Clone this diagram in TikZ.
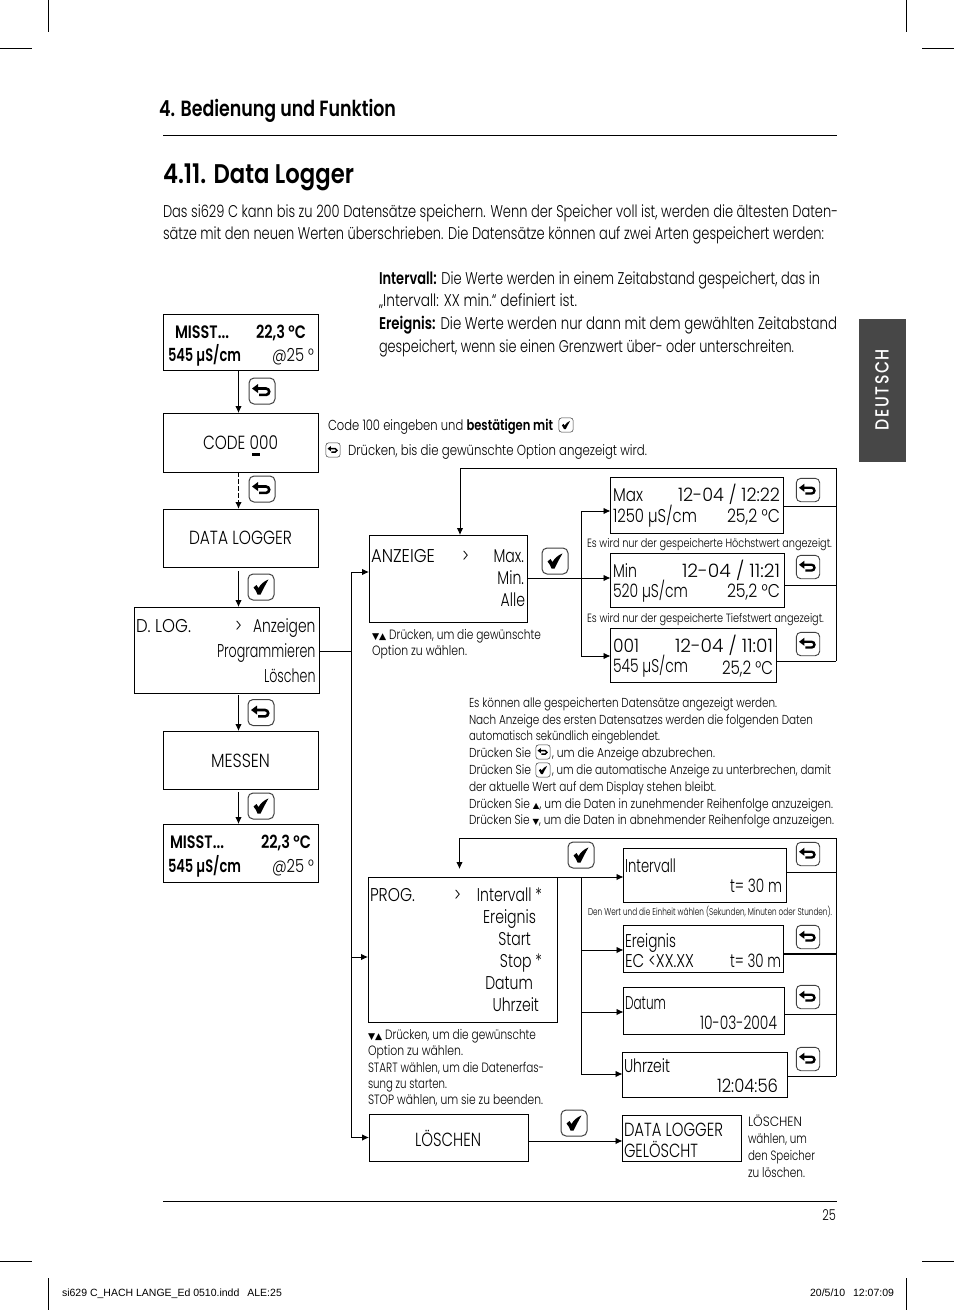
\documentclass[tikz,border=0pt]{standalone}
\usepackage{fontspec}
\usepackage{graphicx}
\usetikzlibrary{arrows.meta}
\setmainfont{Poppins}[UprightFont=* Light,BoldFont=* SemiBold,FakeStretch=0.76]
\newfontfamily\symf{DejaVu Sans}
\newfontfamily\footf{Liberation Sans}
\newfontfamily\tabf{Poppins}[UprightFont=* Medium,FakeStretch=0.8]
\newcounter{tn}
\tikzset{
 txt/.style={inner sep=0pt,outer sep=0pt,text=black},
 box/.style={draw=black,line width=0.9pt,inner sep=0pt,outer sep=0pt},
 conn/.style={draw=black,line width=0.9pt},
 arr/.style={conn,-{Latex[length=7pt,width=6.5pt]}},
 crop/.style={draw=black,line width=0.5pt},
 pics/keyback/.style={code={
   \draw[line width=#1*1pt,draw=black!75,rounded corners=#1*5pt] (-13*#1,-13*#1) rectangle (13*#1,13*#1);
   \draw[line width=#1*2.6pt] (-5*#1,-2.5*#1) -- (4*#1,-2.5*#1) arc[start angle=-90,end angle=90,radius=3.2*#1] -- (-3*#1,3.9*#1);
   \fill (-10*#1,-2.5*#1) -- (-4*#1,-7*#1) -- (-4*#1,2*#1) -- cycle;
 }},
 pics/keycheck/.style={code={
   \draw[line width=#1*1pt,draw=black!75,rounded corners=#1*5pt] (-13*#1,-13*#1) rectangle (13*#1,13*#1);
   \fill (-7.5*#1,0.5*#1) -- (-4.5*#1,-2*#1) -- (-2.5*#1,1*#1) .. controls (-0.5*#1,-2.5*#1) and (3*#1,-6*#1) .. (7.5*#1,-7.5*#1) .. controls (4.5*#1,-2.5*#1) and (2*#1,2.5*#1) .. (-0.5*#1,7.5*#1) -- (-3.5*#1,7.5*#1) .. controls (-4.5*#1,5*#1) and (-5.5*#1,2.5*#1) .. (-7.5*#1,0.5*#1) -- cycle;
 }}
}
% fitted text: left x, right x, baseline y, size, text
\newlength{\fitlen}
\newcommand\tf[5]{\stepcounter{tn}\pgfmathsetlength{\fitlen}{#2-#1}\node[txt,anchor=base west,font=\fontsize{#4}{#4}\selectfont] (t\arabic{tn}) at (#1,#3) {\resizebox{\fitlen}{\height}{#5}};}
\newcommand\tl[4]{\stepcounter{tn}\node[txt,anchor=base west,font=\fontsize{#3}{#3}\selectfont] (t\arabic{tn}) at (#1,#2) {#4};}
\newcommand\tr[4]{\stepcounter{tn}\node[txt,anchor=base east,font=\fontsize{#3}{#3}\selectfont] (t\arabic{tn}) at (#1,#2) {#4};}
\newcommand\bx[5]{\node[box,minimum width=#4pt-#2pt,minimum height=#5pt-#3pt] (#1) at ({(#2+#4)/2},{(#3+#5)/2}) {};}
\newcommand\sy[1]{{\symf #1}}
\begin{document}
\begin{tikzpicture}[x=1pt,y=-1pt]
\useasboundingbox (0,0) rectangle (954,1310);
\fill[white] (0,0) rectangle (954,1310);
% crop marks
\draw[crop] (48,0)--(48,32) (906,0)--(906,32) (0,48)--(32,48) (922,48)--(954,48)
 (48,1278)--(48,1310) (906,1278)--(906,1310) (0,1261)--(32,1261) (922,1261)--(954,1261);
% header
\tf{159}{396}{116}{22}{\textbf{4. Bedienung und Funktion}}
\draw[line width=0.7pt] (163,135.5)--(836.5,135.5);
\tf{163}{354}{183}{27}{\textbf{4.11. Data Logger}}
\tf{163}{838}{217}{17}{Das si629 C kann bis zu 200 Datensätze speichern. Wenn der Speicher voll ist, werden die ältesten Daten-}
\tf{163}{824}{239}{17}{sätze mit den neuen Werten überschrieben. Die Datensätze können auf zwei Arten gespeichert werden:}
\tf{379}{820}{284}{17}{\textbf{Intervall:} Die Werte werden in einem Zeitabstand gespeichert, das in}
\tf{379}{577}{306}{17}{„Intervall: XX min.“ definiert ist.}
\tf{379}{837}{329}{17}{\textbf{Ereignis:} Die Werte werden nur dann mit dem gewählten Zeitabstand}
\tf{379}{794}{352}{17}{gespeichert, wenn sie einen Grenzwert über- oder unterschreiten.}
% tab
\fill[black!72] (859,319) rectangle (906,462);
\stepcounter{tn}
\pgfmathsetlength{\fitlen}{81}
\node[txt,text=white,rotate=90,font=\tabf\fontsize{19}{19}\selectfont] (t\arabic{tn}) at (882,389.5) {\resizebox{\fitlen}{\height}{D\kern1.5pt E\kern1.5pt U\kern1.5pt T\kern1.5pt S\kern1.5pt C\kern1.5pt H}};
% left column boxes
\bx{misa}{163}{314}{318}{370}
\bx{code}{163}{413}{318.5}{472}
\bx{dlog}{163}{509}{318.5}{567}
\bx{dl}{134.5}{607}{319}{693.5}
\bx{mess}{163}{731}{318.5}{789}
\bx{misb}{163}{824}{318.5}{882}
% right boxes
\bx{anz}{369}{535}{527}{622}
\bx{max}{610.5}{477}{783}{533}
\bx{min}{610.5}{553}{784}{607}
\bx{alle}{610.5}{628.5}{776}{682}
\bx{prog}{368}{877}{557}{1022}
\bx{intv}{623.5}{848}{786}{902}
\bx{erg}{623.5}{925}{783}{972}
\bx{dat}{623.5}{987}{784}{1034}
\bx{uhr}{622.5}{1052}{787}{1097}
\bx{los}{369}{1114.5}{528}{1161.5}
\bx{gel}{622.5}{1115.5}{741}{1161.5}
% left connectors
\draw[arr] (misa.south -| 238.5,0) -- (code.north -| 238.5,0);
\draw[arr,dash pattern=on 4.5pt off 2.5pt,line width=1.3pt] (code.south -| 238.5,0) -- (dlog.north -| 238.5,0);
\coordinate (sa) at (238.5,571);
\draw[arr] (sa) -- (dl.north -| sa);
\coordinate (sb) at (238.5,695);
\draw[arr] (sb) -- (mess.north -| sb);
\coordinate (sc) at (238.5,792);
\draw[arr] (sc) -- (misb.north -| sc);
% bus
\coordinate (bus) at (351,651);
\draw[conn] (dl.east |- bus) -- (bus);
\coordinate (busT) at (351,572);
\coordinate (busB) at (351,1137.5);
\coordinate (busP) at (351,957);
\draw[conn] (busT) -- (busB);
\draw[arr] (busT) -- (anz.west |- busT);
\draw[arr] (busP) -- (prog.west |- busP);
\draw[arr] (busB) -- (los.west |- busB);
% anzeige fan
\coordinate (fa) at (581,511);
\coordinate (fb) at (581,578);
\coordinate (fc) at (581,656);
\draw[conn] (fa) -- (fc);
\draw[arr] (fa) -- (max.west |- fa);
\draw[arr] (anz.east |- fb) -- (min.west |- fb);
\draw[arr] (fc) -- (alle.west |- fc);
% anzeige return
\coordinate (ra) at (836,506);
\coordinate (rb) at (836,585);
\coordinate (rc) at (836,661);
\coordinate (rt) at (836,468);
\draw[conn] (max.east |- ra) -- (ra);
\draw[conn] (min.east |- rb) -- (rb);
\draw[conn] (alle.east |- rc) -- (rc);
\coordinate (rtl) at (460,468);
\draw[conn] (rc) -- (rt) -- (rtl);
\draw[arr] (rtl) -- (anz.north -| rtl);
% prog fan
\coordinate (pa) at (581,877);
\coordinate (pb) at (581,950);
\coordinate (pc) at (581,1012);
\coordinate (pd) at (581,1074);
\draw[conn] (pa) -- (pd);
\draw[arr] (prog.east |- pa) -- (intv.west |- pa);
\draw[arr] (pb) -- (erg.west |- pb);
\draw[arr] (pc) -- (dat.west |- pc);
\draw[arr] (pd) -- (uhr.west |- pd);
% prog return
\coordinate (qa) at (836,872);
\coordinate (qb) at (836,954);
\coordinate (qc) at (836,1014);
\coordinate (qd) at (836,1076);
\coordinate (qt) at (836,838);
\coordinate (qtl) at (459.5,838);
\coordinate (qh) at (459.5,869);
\draw[conn] (intv.east |- qa) -- (qa);
\draw[conn,line width=1.4pt] (erg.east |- qb) -- (qb);
\draw[conn] (dat.east |- qc) -- (qc);
\draw[conn] (uhr.east |- qd) -- (qd);
\draw[conn] (qd) -- (qt) -- (qtl);
\draw[arr] (qtl) -- (qh);
\coordinate (ld) at (528,1141);
\draw[arr] (los.east |- ld) -- (gel.west |- ld);
% keys
\pic at (262,391) {keyback=1};
\pic at (262,489) {keyback=1};
\pic at (261,587) {keycheck=1};
\pic at (261,712.5) {keyback=1};
\pic at (261,806) {keycheck=1};
\pic at (555,561) {keycheck=1};
\pic at (808,490) {keyback=0.9};
\pic at (808,567) {keyback=0.9};
\pic at (808,644) {keyback=0.9};
\pic at (581,855) {keycheck=1};
\pic at (808,854) {keyback=0.9};
\pic at (808,937) {keyback=0.9};
\pic at (808,997) {keyback=0.9};
\pic at (808,1059) {keyback=0.9};
\pic at (574,1123) {keycheck=1};
\pic at (566,425) {keycheck=0.55};
\pic at (333,450) {keyback=0.55};
\pic at (543,752) {keyback=0.55};
\pic at (543,770) {keycheck=0.55};
% left box text
\tf{175}{229}{338}{18}{\textbf{MISST...}}
\tf{256}{306}{338}{18}{\textbf{22,3 °C}}
\tf{168}{241}{361}{18}{\textbf{545 µS/cm}}
\tf{272}{314}{361}{18}{@25 °}
\tf{203}{278}{449}{19}{CODE 000}
\fill (251.5,453) rectangle (260,455.5);
\tf{189}{292}{544}{19}{DATA LOGGER}
\tf{136}{191}{632}{18.5}{D. LOG.}
\tl{235}{632}{18.5}{>}
\tf{253}{315.5}{632}{18.5}{Anzeigen}
\tf{217}{315.5}{657}{18.5}{Programmieren}
\tf{264}{315.5}{682}{18.5}{Löschen}
\tf{211}{270}{767}{19}{MESSEN}
\tf{170}{224}{848}{18}{\textbf{MISST...}}
\tf{261}{311}{848}{18}{\textbf{22,3 °C}}
\tf{168}{241}{872}{18}{\textbf{545 µS/cm}}
\tf{272}{314}{872}{18}{@25 °}
% notes near code
\tf{328}{553}{430}{14.5}{Code 100 eingeben und \textbf{bestätigen mit}}
\tf{348}{647}{455}{14.5}{Drücken, bis die gewünschte Option angezeigt wird.}
% anzeige
\tf{371}{435}{562}{18.5}{ANZEIGE}
\tl{462}{562}{18.5}{>}
\tr{524}{562}{18.5}{Max.}
\tr{524}{584}{18.5}{Min.}
\tr{525}{606}{18.5}{Alle}
\tf{372}{541}{639}{13.5}{\sy{\fontsize{9}{9}\selectfont ▼▲} Drücken, um die gewünschte}
\tf{372}{467}{655}{13.5}{Option zu wählen.}
\tf{613}{643}{501}{18.5}{Max}
\tf{678}{780}{501}{18.5}{12-04 / 12:22}
\tf{613}{697}{522}{18.5}{1250 µS/cm}
\tf{727}{780}{522}{18.5}{25,2 °C}
\tf{587}{832}{547}{12}{Es wird nur der gespeicherte Höchstwert angezeigt.}
\tf{613}{637}{577}{18.5}{Min}
\tf{682}{780}{577}{18.5}{12-04 / 11:21}
\tf{613}{688}{597}{18.5}{520 µS/cm}
\tf{727}{780}{597}{18.5}{25,2 °C}
\tf{587}{824}{622}{12}{Es wird nur der gespeicherte Tiefstwert angezeigt.}
\tf{613}{639}{652}{18.5}{001}
\tf{675}{773}{652}{18.5}{12-04 / 11:01}
\tf{613}{688}{672}{18.5}{545 µS/cm}
\tf{722}{773}{674}{18.5}{25,2 °C}
% mid paragraph
\tf{469}{777}{707}{13}{Es können alle gespeicherten Datensätze angezeigt werden.}
\tf{469}{813}{724}{13}{Nach Anzeige des ersten Datensatzes werden die folgenden Daten}
\tf{469}{660}{740}{13}{automatisch sekündlich eingeblendet.}
\tf{469}{531}{757}{13}{Drücken Sie}
\tf{552}{715}{757}{13}{, um die Anzeige abzubrechen.}
\tf{469}{531}{774}{13}{Drücken Sie}
\tf{552}{831}{774}{13}{, um die automatische Anzeige zu unterbrechen, damit}
\tf{469}{716}{791}{13}{der aktuelle Wert auf dem Display stehen bleibt.}
\tf{469}{833}{808}{13}{Drücken Sie \sy{\fontsize{8}{8}\selectfont ▲}, um die Daten in zunehmender Reihenfolge anzuzeigen.}
\tf{469}{834}{824}{13}{Drücken Sie \sy{\fontsize{8}{8}\selectfont ▼}, um die Daten in abnehmender Reihenfolge anzuzeigen.}
% prog
\tf{370}{415}{901}{18.5}{PROG.}
\tl{454}{901}{18.5}{>}
\tr{542}{901}{18.5}{Intervall *}
\tr{536}{923}{18.5}{Ereignis}
\tr{531}{945}{18.5}{Start}
\tr{542}{967}{18.5}{Stop *}
\tr{533}{989}{18.5}{Datum}
\tr{539}{1011}{18.5}{Uhrzeit}
\tf{368}{536}{1039}{13.5}{\sy{\fontsize{9}{9}\selectfont ▼▲} Drücken, um die gewünschte}
\tf{368}{463}{1055}{13.5}{Option zu wählen.}
\tf{368}{544}{1072}{13.5}{START wählen, um die Datenerfas-}
\tf{368}{447}{1088}{13.5}{sung zu starten.}
\tf{368}{543}{1104}{13.5}{STOP wählen, um sie zu beenden.}
\tf{625}{676}{872}{18.5}{Intervall}
\tf{730}{782}{892}{18.5}{t= 30 m}
\tf{588}{832}{915}{10}{Den Wert und die Einheit wählen (Sekunden, Minuten oder Stunden).}
\tf{625}{676}{947}{18.5}{Ereignis}
\tf{625}{694}{967}{18.5}{EC <XX.XX}
\tf{730}{781}{967}{18.5}{t= 30 m}
\tf{625}{666}{1009}{18.5}{Datum}
\tf{700}{777}{1029}{18.5}{10-03-2004}
\tf{624}{670}{1072}{18.5}{Uhrzeit}
\tf{717}{778}{1092}{18.5}{12:04:56}
\tf{415}{481}{1146}{19}{LÖSCHEN}
\tf{624}{723}{1136}{19}{DATA LOGGER}
\tf{624}{698}{1157}{19}{GELÖSCHT}
\tf{748}{802}{1126}{13.5}{LÖSCHEN}
\tf{748}{807}{1143}{13.5}{wählen, um}
\tf{748}{815}{1160}{13.5}{den Speicher}
\tf{748}{805}{1177}{13.5}{zu löschen.}
% footer
\draw[line width=0.7pt] (163,1201.5)--(836.5,1201.5);
\tr{836}{1220}{15}{25}
\stepcounter{tn}
\node[txt,anchor=base west,font=\footf\fontsize{10.5}{10.5}\selectfont] (t\arabic{tn}) at (62,1296) {si629 C\_HACH LANGE\_Ed 0510.indd\hspace{8pt}ALE:25};
\stepcounter{tn}
\node[txt,anchor=base east,font=\footf\fontsize{10.5}{10.5}\selectfont] (t\arabic{tn}) at (894,1296) {20/5/10\hspace{8pt}12:07:09};
\end{tikzpicture}
\end{document}
